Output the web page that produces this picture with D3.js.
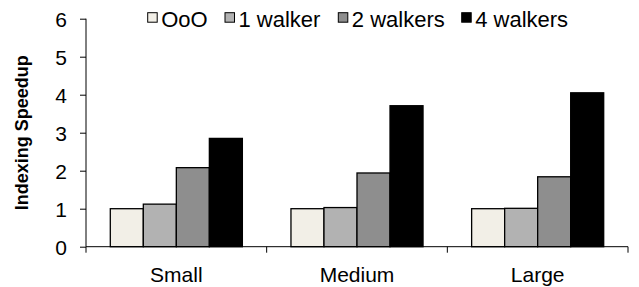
<!DOCTYPE html>
<html>
<head>
<meta charset="utf-8">
<script src="https://cdn.jsdelivr.net/npm/d3@7"></script>
<style>
  body { margin: 0; background: #fff; }
  text { font-family: "Liberation Sans", Arial, sans-serif; fill: #000; }
</style>
</head>
<body>
<div id="chart"></div>
<script>
// data
var sizes = ["Small", "Medium", "Large"];
var series = ["OoO", "1 walker", "2 walkers", "4 walkers"];
var ooo = [1, 1, 1];
var walker1 = [1.12, 1.03, 1.01];
var walker2 = [2.08, 1.94, 1.84];
var walker4 = [2.85, 3.71, 4.05];
var yTicks = [0, 1, 2, 3, 4, 5, 6];
var colors = ["#f2efe7", "#b2b2b2", "#8e8e8e", "#000000"];

var values = [ooo, walker1, walker2, walker4];

var svgWidth = 639;
var svgHeight = 287;

var svg = d3.select("#chart")
  .append("svg")
  .attr("width", svgWidth)
  .attr("height", svgHeight);

var plotLeft = 86, plotRight = 628, plotTop = 18.7, plotBottom = 246.7;

var xScale = d3.scaleBand()
  .domain(sizes)
  .range([plotLeft, plotRight])
  .padding(0);

var inner = d3.scaleBand()
  .domain(series)
  .range([24.3, xScale.bandwidth() - 24.3])
  .padding(0);

var yScale = d3.scaleLinear()
  .domain([0, 6])
  .range([plotBottom, plotTop]);

// bars
series.forEach(function(s, i) {
  svg.append("g")
    .selectAll("rect")
    .data(sizes)
    .enter()
    .append("rect")
    .attr("x", function(d) { return xScale(d) + inner(s); })
    .attr("y", function(d, j) { return yScale(values[i][j]); })
    .attr("width", inner.bandwidth())
    .attr("height", function(d, j) { return yScale(0) - yScale(values[i][j]); })
    .attr("fill", colors[i])
    .attr("stroke", "#000")
    .attr("stroke-width", 1.3);
});

// y axis
var leftAxis = d3.axisLeft(yScale)
  .tickValues(yTicks)
  .tickSize(6)
  .tickPadding(13)
  .tickFormat(d3.format("d"));

var yAxisG = svg.append("g")
  .attr("transform", "translate(" + plotLeft + ",0)")
  .call(leftAxis);
yAxisG.selectAll("text")
  .style("font-size", "21px")
  .attr("dy", "0.36em");
yAxisG.attr("font-family", null).attr("font-size", null);
yAxisG.select(".domain").attr("d", "M0," + plotBottom + "V" + plotTop);

// x axis with ticks at the band edges
var xEdges = sizes.map(function(d) { return xScale(d); }).concat([plotRight]);
var xg = svg.append("g");
xg.append("line")
  .attr("x1", plotLeft).attr("x2", plotRight)
  .attr("y1", plotBottom).attr("y2", plotBottom)
  .attr("stroke", "#000");
xg.selectAll(".edge")
  .data(xEdges)
  .enter()
  .append("line")
  .attr("x1", function(d) { return d; })
  .attr("x2", function(d) { return d; })
  .attr("y1", plotBottom)
  .attr("y2", plotBottom + 6)
  .attr("stroke", "#000");
xg.selectAll(".lbl")
  .data(sizes)
  .enter()
  .append("text")
  .attr("x", function(d) { return xScale(d) + xScale.bandwidth() / 2; })
  .attr("y", 282)
  .attr("text-anchor", "middle")
  .style("font-size", "21px")
  .text(function(d) { return d; });

// y title
svg.append("text")
  .attr("transform", "translate(28," + ((plotTop + plotBottom) / 2) + ")rotate(-90)")
  .attr("text-anchor", "middle")
  .style("font-size", "18px")
  .style("font-weight", "bold")
  .text("Indexing Speedup");

// legend
var legendX = [147.7, 225, 338.3, 461.7];
var legend = svg.append("g");
series.forEach(function(s, i) {
  legend.append("rect")
    .attr("x", legendX[i])
    .attr("y", 12.7)
    .attr("width", 9.5)
    .attr("height", 9.5)
    .attr("fill", colors[i])
    .attr("stroke", "#000")
    .attr("stroke-width", 1);
  legend.append("text")
    .attr("x", legendX[i] + 13.5)
    .attr("y", 27)
    .style("font-size", "22px")
    .text(s);
});
</script>
</body>
</html>
